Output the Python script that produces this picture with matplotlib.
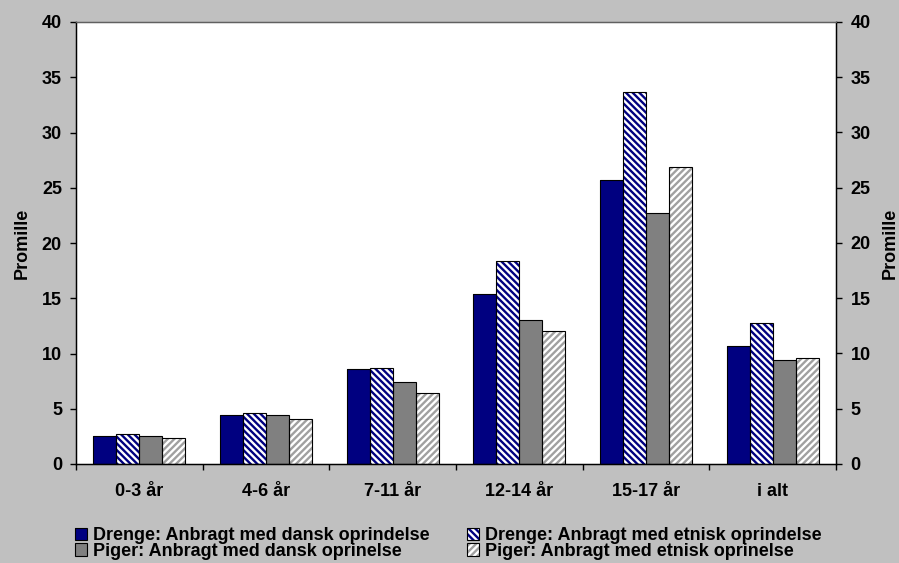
import matplotlib.pyplot as plt
import numpy as np
from matplotlib.patches import Patch
from matplotlib.legend_handler import HandlerTuple

plt.rcParams['font.family'] = ['Liberation Sans', 'DejaVu Sans']
plt.rcParams['font.weight'] = 'bold'
plt.rcParams['hatch.linewidth'] = 1.7

categories = ['0-3 år', '4-6 år', '7-11 år', '12-14 år', '15-17 år', 'i alt']
drenge_dansk = [2.5, 4.4, 8.6, 15.4, 25.7, 10.7]
drenge_etnisk = [2.7, 4.6, 8.7, 18.4, 33.7, 12.8]
piger_dansk = [2.5, 4.4, 7.4, 13.0, 22.7, 9.4]
piger_etnisk = [2.35, 4.05, 6.4, 12.0, 26.9, 9.6]

series = [
    ('Drenge: Anbragt med dansk oprindelse', drenge_dansk, '#000080', None, None),
    ('Drenge: Anbragt med etnisk oprindelse', drenge_etnisk, 'white', '#000080', '\\' * 5),
    ('Piger: Anbragt med dansk oprinelse', piger_dansk, '#808080', None, None),
    ('Piger: Anbragt med etnisk oprinelse', piger_etnisk, 'white', '#A0A0A0', '/' * 5),
]

fig = plt.figure(figsize=(8.99, 5.63), dpi=100, facecolor='#C0C0C0')
ax = fig.add_axes([76 / 899, 99 / 563, 760 / 899, 442 / 563])
ax.set_facecolor('white')

x = np.arange(len(categories))
w = 0.182
handles = []
for i, (name, vals, fc, hc, hatch) in enumerate(series):
    pos = x + (i - 1.5) * w
    if hatch:
        ax.bar(pos, vals, w, color=fc, edgecolor=hc, hatch=hatch, linewidth=0, zorder=2)
    else:
        ax.bar(pos, vals, w, color=fc, linewidth=0, zorder=2)
    ax.bar(pos, vals, w, fill=False, edgecolor='black', linewidth=0.8, zorder=3)
    inner = Patch(facecolor=fc, edgecolor=hc if hc else fc, hatch=hatch, linewidth=0)
    outer = Patch(fill=False, edgecolor='black', linewidth=0.8)
    handles.append((inner, outer))

fs = 13
ax.set_xlim(-0.5, len(categories) - 0.5)
ax.set_ylim(0, 40)
ax.set_yticks(range(0, 41, 5))
ax.set_xticks(x)
ax.set_xticklabels(categories, fontsize=fs, fontweight='bold')
ax.set_xticks(np.arange(-0.5, len(categories), 1), minor=True)
ax.tick_params(axis='x', which='major', length=0, pad=13.5)
ax.tick_params(axis='x', which='minor', length=4.3, direction='out', width=1)
ax.tick_params(axis='y', length=4.3, width=1, direction='out', labelsize=fs, pad=5.8)
ax.spines['top'].set_color('#606060')
ax.spines['top'].set_linewidth(1.0)
for s in ['left', 'right', 'bottom']:
    ax.spines[s].set_linewidth(1.0)
ax.set_ylabel('Promille', fontsize=fs, fontweight='bold', labelpad=8)

ax2 = ax.twinx()
ax2.set_ylim(0, 40)
ax2.set_yticks(range(0, 41, 5))
ax2.tick_params(axis='y', length=4.3, width=1, direction='out', labelsize=fs, pad=6.3)
ax2.spines['top'].set_color('#606060')
ax2.set_ylabel('Promille', fontsize=fs, fontweight='bold', labelpad=7.6)

# legend fills column-wise, so reorder to get the reference's row order
order = [0, 2, 1, 3]
fig.legend([handles[k] for k in order], [series[k][0] for k in order],
           handler_map={tuple: HandlerTuple(ndivide=1)},
           ncol=2, loc='upper left', bbox_to_anchor=(75 / 899, 0.0635),
           frameon=False, fontsize=fs, borderpad=0, borderaxespad=0,
           handlelength=0.66, handleheight=0.66, handletextpad=0.33,
           columnspacing=2.1, labelspacing=-0.08)

fig.savefig('out.png', dpi=100, facecolor=fig.get_facecolor())
